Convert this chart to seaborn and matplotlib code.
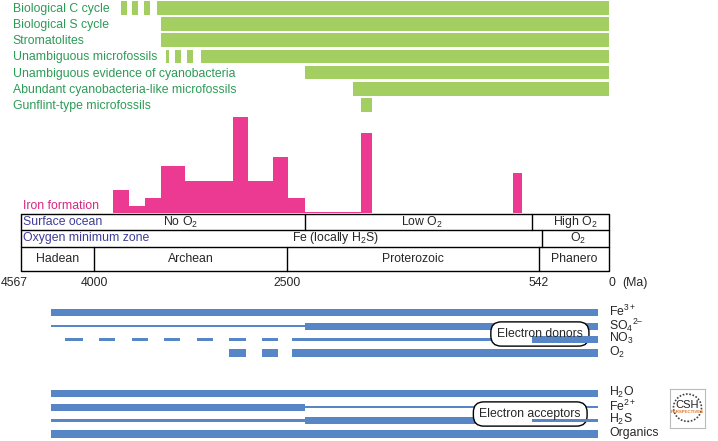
import matplotlib.pyplot as plt
import seaborn as sns
import numpy as np
import pandas as pd
from matplotlib.patches import Ellipse

sns.set_style("white")
plt.rcParams["font.family"] = ["Liberation Sans", "DejaVu Sans"]
plt.rcParams["mathtext.fontset"] = "custom"
plt.rcParams["mathtext.rm"] = "Liberation Sans"
plt.rcParams["mathtext.it"] = "Liberation Sans:italic"
plt.rcParams["mathtext.default"] = "regular"

# ---------------- data (ages in Ma) ----------------
bio_labels = ["Biological C cycle", "Biological S cycle", "Stromatolites",
              "Unambiguous microfossils", "Unambiguous evidence of cyanobacteria",
              "Abundant cyanobacteria-like microfossils", "Gunflint-type microfossils"]
bio_spans = [
    [(3790, 3740), (3705, 3655), (3610, 3565), (3510, 0)],
    [(3480, 0)],
    [(3480, 0)],
    [(3440, 3420), (3370, 3325), (3280, 3230), (3170, 0)],
    [(2360, 0)],
    [(1990, 0)],
    [(1925, 1840)],
]

# iron formation abundance (relative), bins given as (old edge, young edge)
iron_edges = [3850, 3730, 3605, 3480, 3290, 2920, 2800, 2610, 2490, 2360, 1925, 1840, 745, 675]
iron_amount = [23, 7, 15, 47, 32, 96, 32, 56, 15, 1.5, 80, 0, 40]

surface_bounds = [4567, 2360, 600, 0]
surface_states = ["No O$_2$", "Low O$_2$", "High O$_2$"]
omz_bounds = [4567, 520, 0]
omz_states = ["Fe (locally H$_2$S)", "O$_2$"]
eon_bounds = [4567, 4000, 2500, 542, 0]
eon_names = ["Hadean", "Archean", "Proterozoic", "Phanero"]

donor_labels = ["Fe$^{3+}$", "SO$_4$$^{2\u2013}$", "NO$_3$", "O$_2$"]
donor_spans = [
    [(4330, 85, "major")],
    [(4330, 2360, "minor"), (2360, 85, "major")],
    [(4225, 4085, "minor"), (3960, 3835, "minor"), (3705, 3580, "minor"),
     (3455, 3330, "minor"), (3200, 3075, "minor"), (2950, 2815, "minor"),
     (2695, 2570, "minor"), (2460, 600, "minor"), (600, 85, "major")],
    [(2950, 2815, "major"), (2695, 2570, "major"), (2460, 85, "major")],
]
acceptor_labels = ["H$_2$O", "Fe$^{2+}$", "H$_2$S", "Organics"]
acceptor_spans = [
    [(4330, 85, "major")],
    [(4330, 2360, "major"), (2360, 85, "minor")],
    [(4330, 2360, "minor"), (2360, 600, "major"), (600, 85, "minor")],
    [(4330, 85, "major")],
]

# ---------------- styling ----------------
GREEN = "#a3cf62"
GREEN_TXT = "#2b9b55"
PINK = "#ec3a93"
BLUE = "#5686c6"
NAVY = "#3d3d98"
FS = 8.8
XLIM = (4730, -849)  # Ma mapped across the full figure width

fig = plt.figure(figsize=(7.18, 4.41), dpi=100)
ax = fig.add_axes([0, 0, 1, 1])
ax.set_xlim(*XLIM)
ax.set_ylim(441, 0)
ax.axis("off")

# biological evidence bars
for i, (lab, spans) in enumerate(zip(bio_labels, bio_spans)):
    top = 1 + 16.2 * i
    ax.broken_barh([(young, old - young) for old, young in spans], (top, 13.5),
                   color=GREEN, lw=0)
    ax.text(4630, top + 7.8, lab, color=GREEN_TXT, fontsize=FS, va="center", ha="left")

# iron formation histogram on its own axes
iax = fig.add_axes([0, 1 - 213 / 441, 1, 100 / 441])
edges = np.array(iron_edges, dtype=float)
iron_df = pd.DataFrame({"age": (edges[:-1] + edges[1:]) / 2, "amount": iron_amount})
sns.histplot(data=iron_df, x="age", weights="amount", bins=sorted(iron_edges),
             color=PINK, alpha=1, linewidth=0, ax=iax)
iax.set_xlim(*XLIM)
iax.set_ylim(0, 100)
iax.axis("off")
ax.text(4555, 206, "Iron formation", color="#d9267f", fontsize=FS, va="center", ha="left")

# environment / eon table
rows = [(214, 230), (230, 247), (247, 271)]
ax.plot([4567, 0, 0, 4567, 4567], [214, 214, 271, 271, 214], color="black", lw=1)
for y in (230, 247):
    ax.plot([4567, 0], [y, y], color="black", lw=1)
for b in surface_bounds[1:-1]:
    ax.plot([b, b], rows[0], color="black", lw=1)
for b in omz_bounds[1:-1]:
    ax.plot([b, b], rows[1], color="black", lw=1)
for b in eon_bounds[1:-1]:
    ax.plot([b, b], rows[2], color="black", lw=1)

ax.text(4550, 222, "Surface ocean", color=NAVY, fontsize=FS, va="center")
ax.text(4550, 238.5, "Oxygen minimum zone", color=NAVY, fontsize=FS, va="center")
surface_text_x = [3330, 1450, 260]
for s, xt in zip(surface_states, surface_text_x):
    ax.text(xt, 222, s, fontsize=FS, ha="center", va="center")
omz_text_x = [2120, 240]
for s, xt in zip(omz_states, omz_text_x):
    ax.text(xt, 238.5, s, fontsize=FS, ha="center", va="center")
for name, a, b in zip(eon_names, eon_bounds[:-1], eon_bounds[1:]):
    ax.text((a + b) / 2, 259, name, fontsize=FS, ha="center", va="center")

tick_x = [4725, 4000, 2500, 542, -25]
tick_ha = ["left", "center", "center", "center", "center"]
for t, xt, ha in zip(eon_bounds, tick_x, tick_ha):
    ax.text(xt, 283, str(t), fontsize=FS, ha=ha, va="center")
ax.text(-200, 283, "(Ma)", fontsize=FS, ha="center", va="center")

# redox species bars
thick = {"major": 7.3, "minor": 2.7}


def draw_group(labels, spans, y0, box_text, box_x, box_y):
    for i, (lab, segs) in enumerate(zip(labels, spans)):
        yc = y0 + 13.45 * i
        for old, young, kind in segs:
            h = thick[kind]
            z = 4 if old == 600 else 2
            ax.broken_barh([(young, old - young)], (yc - h / 2, h), color=BLUE,
                           lw=0, zorder=z)
        ax.text(-5, yc - 1, lab, fontsize=FS, ha="left", va="center")
    bstyle = dict(boxstyle="round,pad=0.5,rounding_size=0.85", fc="white",
                  ec="black", lw=1)
    ax.text(box_x, box_y, box_text, fontsize=FS, ha="center", va="center",
            color=(0, 0, 0, 0), bbox=bstyle, zorder=3)
    ax.text(box_x, box_y, box_text, fontsize=FS, ha="center", va="center", zorder=5)


draw_group(donor_labels, donor_spans, 312.7, "Electron donors", 535, 334)
draw_group(acceptor_labels, acceptor_spans, 393.7, "Electron acceptors", 610, 414)

# CSH Perspectives logo
lax = fig.add_axes([670 / 718, 1 - 428 / 441, 35 / 718, 39 / 441])
lax.set_xlim(0, 1)
lax.set_ylim(0, 1)
lax.set_xticks([])
lax.set_yticks([])
for sp in lax.spines.values():
    sp.set_color("#bbbbbb")
    sp.set_linewidth(0.8)
lax.add_patch(Ellipse((0.5, 0.52), 0.8, 0.7, fill=False, ec="#444444", lw=1.2, ls=(0, (1, 1))))
lax.text(0.5, 0.6, "CSH", fontsize=8, ha="center", va="center", color="#222222")
lax.text(0.5, 0.4, "PERSPECTIVES", fontsize=3.2, ha="center", va="center",
         color="#e0782a", fontweight="bold")

fig.savefig("out.png", dpi=100)
